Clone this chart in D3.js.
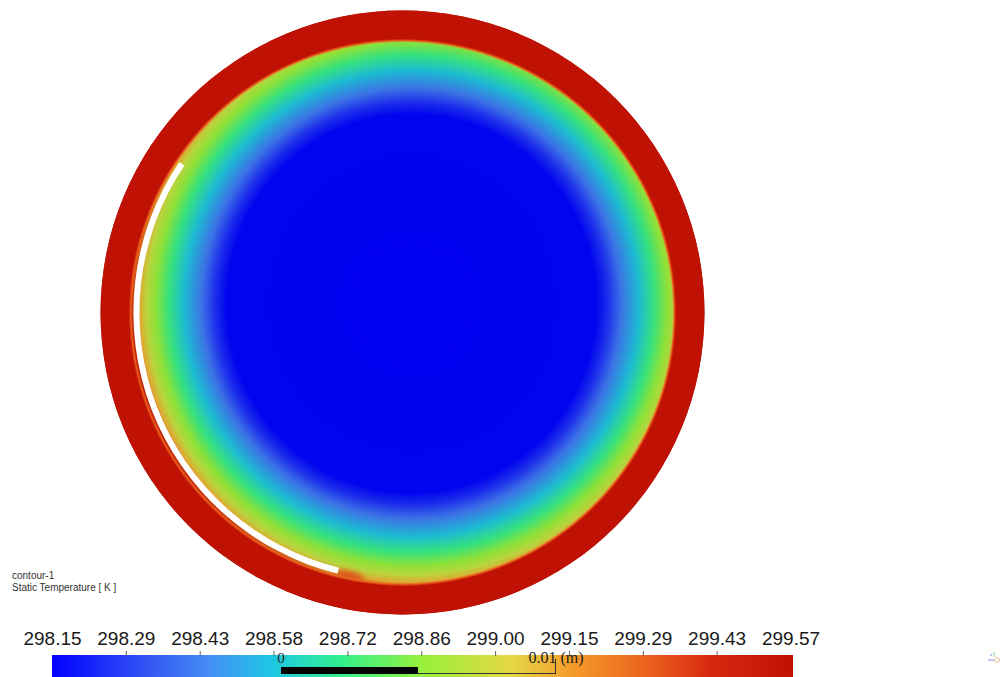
<!DOCTYPE html>
<html>
<head>
<meta charset="utf-8">
<script src="https://cdn.jsdelivr.net/npm/d3@7"></script>
<style>
  html, body { margin: 0; padding: 0; background: #fff; }
  svg { display: block; }
</style>
</head>
<body>
<svg id="chart" width="1003" height="677"></svg>
<script>
// ---------- DATA ----------
const tMin = 298.15, tMax = 299.57;
const tickLabels = ["298.15","298.29","298.43","298.58","298.72","298.86","299.00","299.15","299.29","299.43","299.57"];
// colormap (fraction of range -> colour)
const cmapStops  = [0, 0.12, 0.21, 0.30, 0.39, 0.50, 0.62, 0.71, 0.80, 0.89, 1.0];
const cmapColors = ["#0000ff","#3250f5","#468cf5","#1ec8e1","#32f08c","#96f03c","#e6d746","#f59628","#eb641e","#d7280f","#bf1204"];
// radial temperature profile of the inner field (radius in m, temperature in K)
const profileR = [0, 0.00675, 0.00719, 0.00766, 0.00832, 0.00887, 0.00934, 0.00967, 0.00993, 0.01022, 0.01058];
const profileT = [298.15, 298.16, 298.26, 298.41, 298.58, 298.72, 298.86, 298.96, 299.10, 299.45, 299.57];
const domainRadius = 0.01102;      // m, outer boundary
const ringInner = 0.00997;          // m, inner edge of hot ring
const ringT = 299.57;
// heater strip (white arc): radius in m, angle span in degrees (clockwise from 12 o'clock)
const stripR = 0.00971, stripW = 0.00022;
const stripAngles = [194, 304];
const hotSpotT = 299.3;             // warm patch at the strip's lower end
const scaleBarLen = 0.01;          // m

// ---------- SETUP ----------
const svg = d3.select("#chart");
const defs = svg.append("defs");
const cx = 402.5, cy = 312.5;
const pxPerM = 27400;
const rScale = d3.scaleLinear().domain([0, 1]).range([0, pxPerM]); // metres -> px
const fieldOffset = [9, -9]; // px shift of the cold core
const fieldStretchY = 1.025;

const tempColor = d3.scaleLinear()
  .domain(cmapStops.map(s => tMin + s * (tMax - tMin)))
  .range(cmapColors)
  .interpolate(d3.interpolateRgb)
  .clamp(true);

// ---------- FIELD ----------
const R = rScale(domainRadius);
const fieldMaxR = rScale(profileR[profileR.length - 1]);
const fcx = cx + fieldOffset[0], fcy = cy + fieldOffset[1];
const gField = defs.append("radialGradient")
  .attr("id", "field").attr("gradientUnits", "userSpaceOnUse")
  .attr("cx", fcx).attr("cy", fcy).attr("r", fieldMaxR)
  .attr("gradientTransform", `translate(${fcx},${fcy}) scale(1,${fieldStretchY}) translate(${-fcx},${-fcy})`);
profileR.forEach((r, i) => {
  gField.append("stop")
    .attr("offset", rScale(r) / fieldMaxR)
    .attr("stop-color", tempColor(profileT[i]));
});

svg.append("circle").attr("cx", cx).attr("cy", cy).attr("r", R).attr("fill", "url(#field)");

// warm patch near the lower end of the strip
const blur = defs.append("filter").attr("id", "blur").attr("x", "-50%").attr("y", "-50%").attr("width", "200%").attr("height", "200%");
blur.append("feGaussianBlur").attr("stdDeviation", 2.5);
const endA = stripAngles[0] * Math.PI / 180;
const hx = cx + rScale(stripR + 0.0001) * Math.sin(endA) + 12;
const hy = cy - rScale(stripR + 0.0001) * Math.cos(endA) + 3;
svg.append("ellipse").attr("cx", hx).attr("cy", hy).attr("rx", 15).attr("ry", 5)
  .attr("transform", `rotate(14 ${hx} ${hy})`)
  .attr("fill", tempColor(hotSpotT)).attr("filter", "url(#blur)");

// surface shading of the rendered field
svg.append("circle").attr("cx", cx).attr("cy", cy).attr("r", R).attr("fill", "#000").attr("opacity", 0.06);

// hot outer ring with soft inner edge
const gRing = defs.append("radialGradient")
  .attr("id", "ring").attr("gradientUnits", "userSpaceOnUse")
  .attr("cx", cx).attr("cy", cy).attr("r", R);
[[ringInner - 0.00012, 299.2, 0], [ringInner - 0.00005, 299.3, 1], [ringInner + 0.00002, ringT, 1], [domainRadius, ringT, 1]]
  .forEach(([r, t, o]) => {
    gRing.append("stop").attr("offset", rScale(r) / R)
      .attr("stop-color", tempColor(t)).attr("stop-opacity", o);
  });
svg.append("circle").attr("cx", cx).attr("cy", cy).attr("r", R).attr("fill", "url(#ring)");

// white strip
const arc = d3.arc()
  .innerRadius(rScale(stripR - stripW / 2))
  .outerRadius(rScale(stripR + stripW / 2))
  .startAngle(stripAngles[0] * Math.PI / 180)
  .endAngle(stripAngles[1] * Math.PI / 180);
svg.append("path").attr("transform", `translate(${cx},${cy})`).attr("d", arc()).attr("fill", "#ffffff");

// ---------- LEGEND TITLE ----------
const title = svg.append("g").attr("font-family", "'Liberation Sans', Arial, sans-serif")
  .attr("font-size", 10).attr("fill", "#333");
title.append("text").attr("x", 12).attr("y", 579).text("contour-1");
title.append("text").attr("x", 12).attr("y", 590.5).text("Static Temperature [ K ]");

// ---------- COLORBAR ----------
const cbX0 = 52, cbX1 = 793, cbY = 655;
const gBar = defs.append("linearGradient").attr("id", "cbar")
  .attr("x1", 0).attr("x2", 1).attr("y1", 0).attr("y2", 0);
cmapStops.forEach((s, i) => gBar.append("stop").attr("offset", s).attr("stop-color", cmapColors[i]));
svg.append("rect").attr("x", cbX0).attr("y", cbY).attr("width", cbX1 - cbX0).attr("height", 30)
  .attr("fill", "url(#cbar)");

const tickPos = d3.scalePoint().domain(tickLabels).range([52.5, 791]);
svg.append("g").selectAll("line").data(tickLabels.slice(1, -1)).join("line")
  .attr("x1", d => tickPos(d)).attr("x2", d => tickPos(d))
  .attr("y1", 651).attr("y2", 656).attr("stroke", "#666").attr("stroke-width", 1);
svg.append("g").attr("font-family", "'Liberation Sans', Arial, sans-serif")
  .attr("font-size", 19).attr("fill", "#1a1a1a").attr("text-anchor", "middle")
  .selectAll("text").data(tickLabels).join("text")
  .attr("x", d => tickPos(d)).attr("y", 645).text(d => d);

// ---------- SCALE BAR ----------
const sbScale = d3.scaleLinear().domain([0, scaleBarLen]).range([281, 281 + rScale(scaleBarLen)]);
const sb = svg.append("g");
sb.append("rect").attr("x", sbScale(0)).attr("y", 667)
  .attr("width", sbScale(scaleBarLen / 2) - sbScale(0)).attr("height", 7).attr("fill", "#000");
sb.append("line").attr("x1", sbScale(scaleBarLen / 2)).attr("x2", sbScale(scaleBarLen))
  .attr("y1", 673.5).attr("y2", 673.5).attr("stroke", "#333").attr("stroke-width", 1);
sb.append("line").attr("x1", sbScale(scaleBarLen) + 0.5).attr("x2", sbScale(scaleBarLen) + 0.5)
  .attr("y1", 659).attr("y2", 674).attr("stroke", "#333").attr("stroke-width", 1);
sb.append("text").attr("x", sbScale(0)).attr("y", 663).attr("text-anchor", "middle")
  .attr("font-family", "'Liberation Serif', 'Times New Roman', serif").attr("font-size", 15)
  .attr("fill", "#222").text("0");
sb.append("text").attr("x", 556).attr("y", 663).attr("text-anchor", "middle")
  .attr("font-family", "'Liberation Serif', 'Times New Roman', serif").attr("font-size", 16)
  .attr("fill", "#222").text("0.01 (m)");

// ---------- AXIS TRIAD ICON ----------
const tri = svg.append("g").attr("opacity", 0.55);
tri.append("line").attr("x1", 988).attr("x2", 995).attr("y1", 660).attr("y2", 660).attr("stroke", "#4060c0").attr("stroke-width", 1.2);
tri.append("line").attr("x1", 994).attr("x2", 994).attr("y1", 652).attr("y2", 657).attr("stroke", "#50b050").attr("stroke-width", 1.2);
tri.append("circle").attr("cx", 997).attr("cy", 660).attr("r", 2.5).attr("fill", "none").attr("stroke", "#d08040");
tri.append("circle").attr("cx", 991).attr("cy", 655).attr("r", 1).attr("fill", "#4080c0");
</script>
</body>
</html>
